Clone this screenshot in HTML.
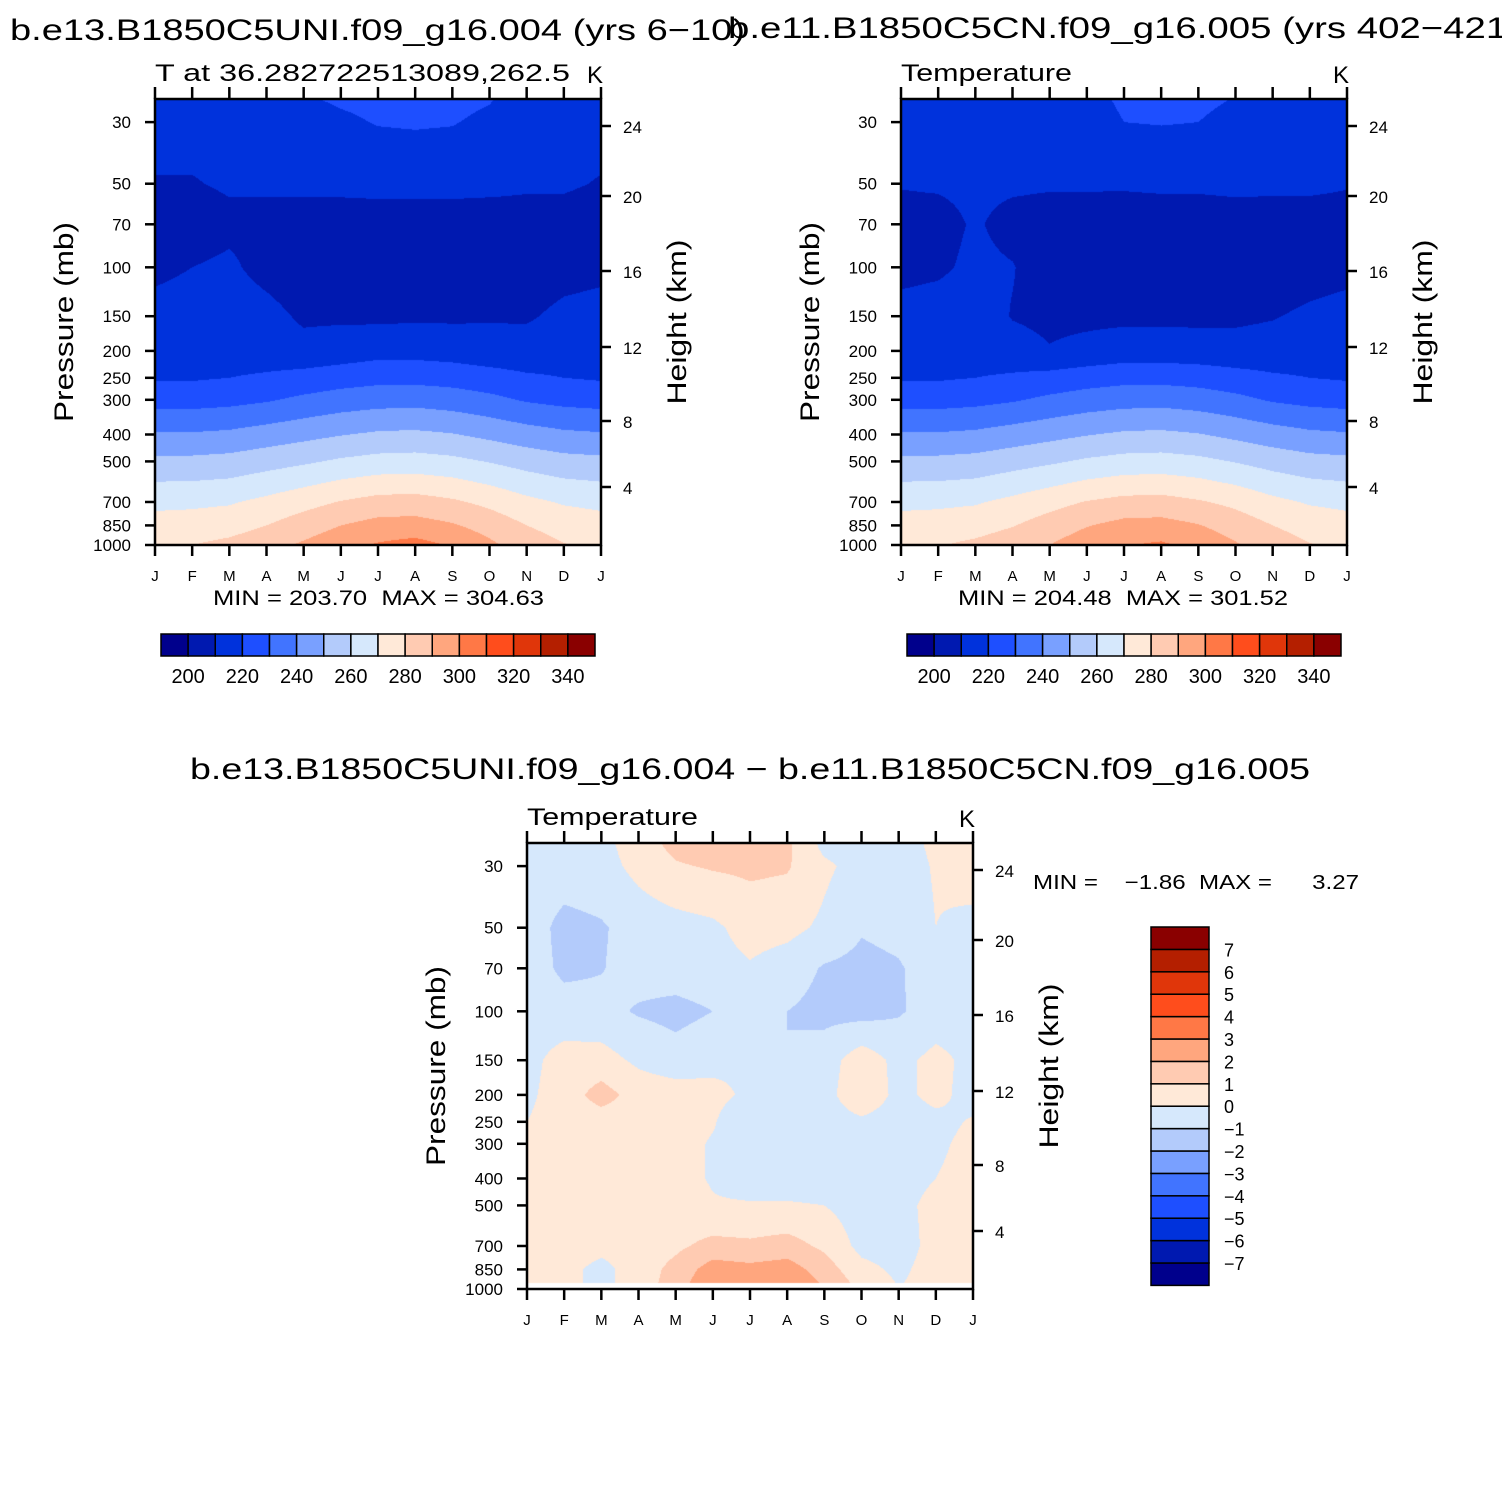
<!DOCTYPE html>
<html><head><meta charset="utf-8">
<style>
html,body{margin:0;padding:0;background:#fff;}
#wrap{position:relative;width:1502px;height:1499px;overflow:hidden;background:#fff;}
canvas{position:absolute;}
svg{position:absolute;left:0;top:0;}
text{font-family:"Liberation Sans",sans-serif;fill:#000;white-space:pre;}
</style></head>
<body>
<div id="wrap">
<canvas id="c1" width="446" height="446" style="left:155px;top:99px"></canvas>
<canvas id="c2" width="446" height="446" style="left:901px;top:99px"></canvas>
<canvas id="c3" width="446" height="446" style="left:527px;top:843px"></canvas>
<svg id="ov" width="1502" height="1499"></svg>
</div>
<script>
const months=['J','F','M','A','M','J','J','A','S','O','N','D','J'];
const levels=[25,30,50,70,100,150,200,250,300,400,500,700,850,1000];
const pressureTicks=[30,50,70,100,150,200,250,300,400,500,700,850,1000];
const heightTicks=[24,20,16,12,8,4];
const tempBarLabels=[200,220,240,260,280,300,320,340];
const diffBarLabels=[7,6,5,4,3,2,1,0,-1,-2,-3,-4,-5,-6,-7];
const palette=['#00008c','#0019b0','#0032dc','#1e4fff','#4174ff','#79a0ff','#b3cbfb','#d6e8fc','#ffe9d8','#ffcbb2','#ffa67e','#ff7846','#ff4d1c','#e0360a','#b41f00','#8a0000'];

// Panel 1 temperature (K), rows = levels, cols = months
const t1_25=[214,214,214,215,219,221,222,223,222.5,220.5,216,214,214];
const t1_30=[213,213,213,214,216,218.5,220.5,221,220.5,218,215,213,213];
const t1_50=[209.5,209.5,211,211,211.5,212,213,213,213,212,211,211,209.5];
const t1_70=[206,206,208,208,207,206,205,205,205,206,207,207,206];
const t1_100=[208,210,211.5,207,204,204,204,204,204,204,205,207,208];
const t1_150=[213,214,215,213,208.5,208.5,208,208.5,208.5,209,209,212,213];
const t1_200=[215,215,215,214.5,213,214.5,216.5,216.5,215.5,214,213.5,215,215];
const t1_250=[219,219,220,221.5,223.5,225.5,227,227,226,224,221.5,220,219];
const t1_300=[226,226,227,229,232,234.5,236,236.5,235,232.5,229,227,226];
const t1_400=[241,241,242,244.5,247,249.5,251.5,252,250.5,247.5,244.5,242,241];
const t1_500=[252.5,252.5,253.5,256,258.5,261.5,263.5,264,262.5,259.5,256,253.5,252.5];
const t1_700=[267.5,268,269,272.5,276.5,280.5,283.5,284,281.5,277.5,272.5,269,267.5];
const t1_850=[274,274.5,276,280,285,290,293.5,294,291,286,280,276,274];
const t1_1000=[278,280,282.5,286.5,291.5,296.5,301,303.5,299,292,285,280.5,278];
const field1=[t1_25,t1_30,t1_50,t1_70,t1_100,t1_150,t1_200,t1_250,t1_300,t1_400,t1_500,t1_700,t1_850,t1_1000];

// Panel 2 temperature (K)
const t2_25=[214,214,214,214,215,218,221,222,222,219.5,215,214,214];
const t2_30=[213,213,213,213,214.5,217,220,220.5,220,217,214,213,213];
const t2_50=[210.5,211,212,211.5,211,211,211,211.5,211.5,212,211.5,211.5,210.5];
const t2_70=[207,207,211,207,206,206,205.5,205.5,205.5,206,206.5,206.5,207];
const t2_100=[207.5,208.5,212,210.5,204.5,204,204,204,204,204.5,205,206.5,207.5];
const t2_150=[213,214,215,209.5,208,208,208,208,208,208.5,209.5,211.5,213];
const t2_200=[215,215,215,213.5,210.5,212.5,214.5,214.5,214,213,213.5,214.5,215];
const t2_250=[219,219,220,221.5,223.5,225.5,227,227,226,224,221.5,220,219];
const t2_300=[226,226,227,229,232,234.5,236,236.5,235,232.5,229,227,226];
const t2_400=[241,241,242,244.5,247,249.5,251.5,252,250.5,247.5,244.5,242,241];
const t2_500=[252.5,252.5,253.5,256,258.5,261.5,263.5,264,262.5,259.5,256,253.5,252.5];
const t2_700=[267.5,268,269,272.5,276.5,280.5,283,283.5,281,277.5,272.5,269,267.5];
const t2_850=[274,274.5,276,279.5,284.5,289.5,293,293.5,290.5,285.5,280,276,274];
const t2_1000=[278,279.5,282,285.5,290,295.5,299.5,301.5,297,291,285,280.5,278];
const field2=[t2_25,t2_30,t2_50,t2_70,t2_100,t2_150,t2_200,t2_250,t2_300,t2_400,t2_500,t2_700,t2_850,t2_1000];

// Panel 3 difference (K)
const d_25=[-0.5,-0.5,-0.3,0.5,1.3,1.5,1.5,1.2,-0.3,-0.5,-0.4,0.2,0.5];
const d_30=[-0.5,-0.5,-0.4,0.3,0.9,1.1,1.2,1.1,0.2,-0.4,-0.5,0.1,0.5];
const d_50=[-0.5,-1.3,-1.1,-0.6,-0.4,-0.2,0.4,0.3,-0.2,-0.9,-0.7,0,-0.3];
const d_70=[-0.5,-1.2,-1.05,-0.6,-0.5,-0.4,-0.1,-0.5,-1.1,-1.3,-1.1,-0.5,-0.4];
const d_100=[-0.5,-0.6,-0.7,-1.1,-1.3,-1.0,-0.7,-1.0,-1.3,-1.4,-1.1,-0.6,-0.5];
const d_150=[-0.3,0.4,0.4,-0.2,-0.6,-0.3,-0.1,-1.0,-0.5,0.6,-0.3,0.3,-0.3];
const d_200=[-0.2,0.5,1.4,0.6,0.5,0.3,-0.2,-0.5,-0.4,0.8,-0.3,0.3,-0.4];
const d_250=[0.0,0.5,0.5,0.5,0.4,0.1,-0.9,-0.5,-0.5,-0.2,-0.5,-0.3,0.1];
const d_300=[0.3,0.5,0.5,0.5,0.4,-0.1,-0.6,-0.6,-0.5,-0.5,-0.5,-0.2,0.3];
const d_400=[0.4,0.6,0.5,0.5,0.4,-0.1,-0.5,-0.5,-0.5,-0.5,-0.4,0.0,0.4];
const d_500=[0.4,0.9,0.5,0.5,0.5,0.1,0.1,0.1,0.0,-0.5,-0.3,0.3,0.4];
const d_700=[0.4,0.6,0.3,0.4,0.8,1.3,1.2,1.4,0.8,-0.3,-0.4,0.3,0.4];
const d_850=[0.4,0.3,-0.3,0.5,1.3,2.5,2.3,2.5,1.5,0.3,-0.2,0.4,0.4];
const d_1000=[0.4,0.3,-0.3,0.5,1.5,3.1,2.5,3.2,2.0,0.8,0.0,0.4,0.4];
const field3=[d_25,d_30,d_50,d_70,d_100,d_150,d_200,d_250,d_300,d_400,d_500,d_700,d_850,d_1000];

const PW=446,PH=446;
function yScale(p){return PH-(Math.log(1000)-Math.log(p))*120.6;}
function xScale(i){return i*PW/(months.length-1);}

function sample(field,fx,lnp){
  let c=Math.min(Math.floor(fx),months.length-2); let tx=fx-c;
  let r=0; const lls=levels.map(Math.log);
  if(lnp<=lls[0]) {r=0;} else {while(r<levels.length-2 && lls[r+1]<lnp) r++;}
  let ty=(lnp-lls[r])/(lls[r+1]-lls[r]); ty=Math.max(0,Math.min(1,ty));
  const a=field[r][c],b=field[r][c+1],d=field[r+1][c],e=field[r+1][c+1];
  return (a*(1-tx)+b*tx)*(1-ty)+(d*(1-tx)+e*tx)*ty;
}
function hex(h){return [parseInt(h.substr(1,2),16),parseInt(h.substr(3,2),16),parseInt(h.substr(5,2),16)];}
const palRGB=palette.map(hex);
function drawField(id,field,idxFn,bottomBlank){
  const cv=document.getElementById(id),ctx=cv.getContext('2d');
  const img=ctx.createImageData(PW,PH);
  for(let py=0;py<PH;py++){
    const lnp=Math.log(1000)-(PH-py-0.5)/120.6;
    for(let px=0;px<PW;px++){
      const o=(py*PW+px)*4;
      if(py>=PH-bottomBlank){img.data[o]=255;img.data[o+1]=255;img.data[o+2]=255;img.data[o+3]=255;continue;}
      const fx=(px+0.5)/PW*(months.length-1);
      const v=sample(field,fx,lnp);
      const k=Math.max(0,Math.min(15,idxFn(v)));
      const c=palRGB[k];
      img.data[o]=c[0];img.data[o+1]=c[1];img.data[o+2]=c[2];img.data[o+3]=255;
    }
  }
  ctx.putImageData(img,0,0);
}
drawField('c1',field1,v=>Math.floor((v-200)/10)+1,0);
drawField('c2',field2,v=>Math.floor((v-200)/10)+1,0);
drawField('c3',field3,v=>Math.floor(v+7)+1,6);

const NS='http://www.w3.org/2000/svg';
const ov=document.getElementById('ov');
function el(tag,attrs,parent){const e=document.createElementNS(NS,tag);for(const k in attrs)e.setAttribute(k,attrs[k]);(parent||ov).appendChild(e);return e;}
function txt(s,x,y,size,anchor,extra){const t=el('text',Object.assign({x:x,y:y,'font-size':size,'text-anchor':anchor||'start'},extra||{}));t.textContent=s;return t;}

function axes(ox,oy,prefix,subtitle,subW,minmax,mmX,mmW){
  const g=el('g',{});
  
  
  el('rect',{x:ox,y:oy,width:PW,height:PH,fill:'none',stroke:'#000','stroke-width':2.5},g);
  months.forEach((m,i)=>{
    const x=ox+xScale(i);
    el('line',{x1:x,y1:oy,x2:x,y2:oy-12,stroke:'#000','stroke-width':2.5},g);
    el('line',{x1:x,y1:oy+PH,x2:x,y2:oy+PH+11,stroke:'#000','stroke-width':2.5},g);
    const t=txt(m,x,oy+PH+36,15,'middle');
    
    
  });
  pressureTicks.forEach(p=>{
    const y=oy+yScale(p);
    el('line',{x1:ox,y1:y,x2:ox-10,y2:y,stroke:'#000','stroke-width':2.5},g);
    const t=txt(String(p),ox-24,y+6,17,'end');
    
    
  });
  const hOff=[27,97,172,248,322,388];
  heightTicks.forEach((h,i)=>{
    const y=oy+hOff[i];
    el('line',{x1:ox+PW,y1:y,x2:ox+PW+10,y2:y,stroke:'#000','stroke-width':2.5},g);
    const t=txt(String(h),ox+PW+22,y+7,17,'start');
    
    
  });
  const pt=txt('Pressure (mb)',0,0,27,'middle',{transform:'translate('+(ox-82)+','+(oy+223)+') rotate(-90)',textLength:200,lengthAdjust:'spacingAndGlyphs'});
  
  
  const ht=txt('Height (km)',0,0,27,'middle',{transform:'translate('+(ox+PW+85)+','+(oy+223)+') rotate(-90)',textLength:165,lengthAdjust:'spacingAndGlyphs'});
  
  
  const st=txt(subtitle,ox,oy-18,24,'start',{textLength:subW,lengthAdjust:'spacingAndGlyphs'});
  
  
  const kt=txt('K',ox+PW-6,oy-16,24,'middle');
  
  
  if(minmax){
    const mm=txt(minmax,mmX,oy+PH+60,21,'start',{textLength:mmW,lengthAdjust:'spacingAndGlyphs'});
    
    
  }
}
function hbar(x0,y0,name){
  const g=el('g',{});
  
  
  const bw=27.125;
  palette.forEach((c,i)=>{
    const r=el('rect',{x:x0+i*bw,y:y0,width:bw,height:22,fill:c,stroke:'#000','stroke-width':1.5},g);
    
    
  });
  tempBarLabels.forEach(v=>{
    const k=(v-200)/10+1;
    const t=txt(String(v),x0+k*bw,y0+49,20,'middle');
    
    
  });
}
function vbar(x0,y0,name){
  const g=el('g',{});
  
  
  const bh=22.4;
  palette.forEach((c,i)=>{
    const r=el('rect',{x:x0,y:y0+(15-i)*bh,width:58,height:bh,fill:c,stroke:'#000','stroke-width':1.5},g);
    
    
  });
  diffBarLabels.forEach(v=>{
    const k=7-v+1;
    const t=txt(String(v).replace('-','\u2212'),x0+73,y0+k*bh+7,18,'start');
    
    
  });
}

let t;
t=txt('b.e13.B1850C5UNI.f09_g16.004 (yrs 6\u221210)',10,40,30,'start',{textLength:735,lengthAdjust:'spacingAndGlyphs'});


t=txt('b.e11.B1850C5CN.f09_g16.005 (yrs 402\u2212421)',728,38,30,'start',{textLength:792,lengthAdjust:'spacingAndGlyphs'});


t=txt('b.e13.B1850C5UNI.f09_g16.004 \u2212 b.e11.B1850C5CN.f09_g16.005',190,779,30,'start',{textLength:1120,lengthAdjust:'spacingAndGlyphs'});



axes(155,99,'panel1','T at 36.282722513089,262.5',415,'MIN = 203.70  MAX = 304.63',213,331);
axes(901,99,'panel2','Temperature',171,'MIN = 204.48  MAX = 301.52',958,330);
axes(527,843,'diff','Temperature',171,null);
t=txt('MIN =\u00a0\u00a0\u00a0\u00a0\u22121.86\u00a0\u00a0MAX =\u00a0\u00a0\u00a0\u00a0\u00a0\u00a03.27',1033,889,20,'start',{textLength:326,lengthAdjust:'spacingAndGlyphs'});



hbar(161,634,'panel1-colorbar');
hbar(907,634,'panel2-colorbar');
vbar(1151,927,'diff-colorbar');
</script>
</body></html>
